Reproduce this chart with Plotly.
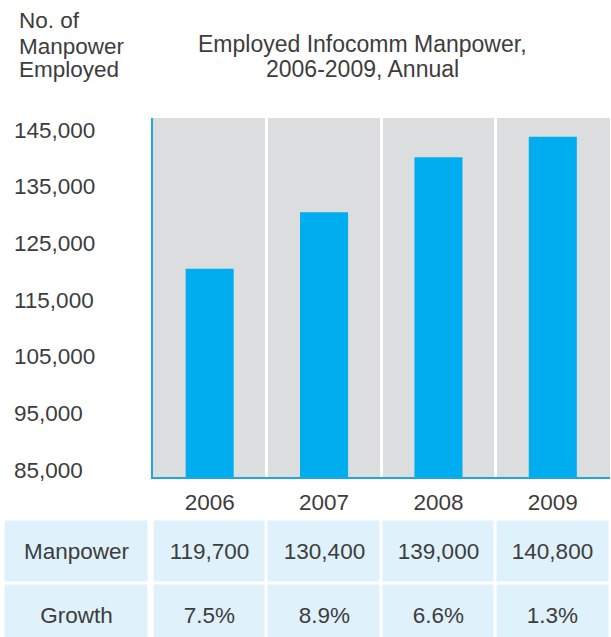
import plotly.graph_objects as go

# ---- data ----
years = ["2006", "2007", "2008", "2009"]
bar_values = [120500, 130500, 140200, 143800]   # bar heights as drawn in the chart
manpower = [119700, 130400, 139000, 140800]     # table row "Manpower"
growth = [7.5, 8.9, 6.6, 1.3]                   # table row "Growth" (%)
row_labels = ["Manpower", "Growth"]
y_ticks = [85000, 95000, 105000, 115000, 125000, 135000, 145000]
y_title_lines = ["No. of", "Manpower", "Employed"]
title_lines = ["Employed Infocomm Manpower,", "2006-2009, Annual"]

# ---- style ----
W, H = 611, 637
TXT = "#3d3d3d"
BLUE = "#00aeef"
LINE_BLUE = "#1fa8e0"
GREY = "#dcdddf"
CELL = "#dff1fa"
FONT = "Liberation Sans, Arial, sans-serif"
FS = 22.5
FS_TITLE = 23

def px_x(p):
    return p / W

def px_y(p):
    return 1 - p / H

fig = go.Figure()

fig.add_trace(go.Bar(
    x=years, y=bar_values, marker=dict(color=BLUE, line=dict(width=0)),
    xaxis="x", yaxis="y", hoverinfo="x+y", showlegend=False,
))

table_text = [[f"{v:,}" for v in manpower], [f"{g}%" for g in growth]]
fig.add_trace(go.Heatmap(
    x=years, y=row_labels, z=[[0] * len(years) for _ in row_labels],
    text=table_text, texttemplate="%{text}",
    textfont=dict(size=FS, color=TXT, family=FONT),
    colorscale=[[0, CELL], [1, CELL]], showscale=False,
    xgap=3, ygap=3, xaxis="x2", yaxis="y2", hoverinfo="skip",
))
fig.add_trace(go.Heatmap(
    x=["label"], y=row_labels, z=[[0] for _ in row_labels],
    text=[[r] for r in row_labels], texttemplate="%{text}",
    textfont=dict(size=FS, color=TXT, family=FONT),
    colorscale=[[0, CELL], [1, CELL]], showscale=False,
    xgap=3, ygap=3, xaxis="x3", yaxis="y2", hoverinfo="skip",
))

x_dom = [px_x(152.5), px_x(610)]
fig.update_layout(
    width=W, height=H,
    margin=dict(l=0, r=0, t=0, b=0),
    paper_bgcolor="white", plot_bgcolor="white",
    font=dict(family=FONT, color=TXT, size=FS),
    bargap=0.58,
    xaxis=dict(
        domain=x_dom, anchor="y", type="category",
        showgrid=True, gridcolor="white", gridwidth=3, tickson="boundaries",
        showline=True, linecolor=LINE_BLUE, linewidth=2,
        ticks="", tickfont=dict(size=FS, color=TXT, family=FONT),
        ticklabelstandoff=4, fixedrange=True,
    ),
    yaxis=dict(
        domain=[px_y(477), px_y(118)], anchor="x",
        range=[83765, 147118],
        showline=True, linecolor=LINE_BLUE, linewidth=2,
        showgrid=False, zeroline=False, showticklabels=False, ticks="",
        fixedrange=True,
    ),
    xaxis2=dict(domain=x_dom, anchor="y2", type="category",
                range=[-0.5, len(years) - 0.5], visible=False),
    xaxis3=dict(domain=[px_x(3.5), px_x(149.5)], anchor="y2", type="category",
                range=[-0.5, 0.5], visible=False),
    yaxis2=dict(domain=[0, px_y(519.5)], anchor="x2", type="category",
                range=[1.336, -0.5], visible=False),
    shapes=[dict(type="rect", xref="x domain", yref="y domain",
                 x0=0, x1=1, y0=0, y1=1, fillcolor=GREY,
                 line=dict(width=0), layer="below")],
)

ann = []
for v in y_ticks:
    ann.append(dict(x=px_x(12), xref="paper", xanchor="left",
                    y=v, yref="y", yanchor="middle",
                    text=f"{v:,}", showarrow=False,
                    font=dict(size=FS, color=TXT, family=FONT)))
for t, yc in zip(y_title_lines, [21, 46, 69]):
    ann.append(dict(x=px_x(17), xref="paper", xanchor="left",
                    y=px_y(yc), yref="paper", yanchor="middle",
                    text=t, showarrow=False,
                    font=dict(size=FS, color=TXT, family=FONT)))
for t, yc in zip(title_lines, [44, 69]):
    ann.append(dict(x=px_x(362), xref="paper", xanchor="center",
                    y=px_y(yc), yref="paper", yanchor="middle",
                    text=t, showarrow=False,
                    font=dict(size=FS_TITLE, color=TXT, family=FONT)))
fig.update_layout(annotations=ann)

fig.write_html(
    "out.html",
    config={"displayModeBar": False},
    post_script="document.body.style.margin='0';document.body.style.overflow='hidden';",
)
